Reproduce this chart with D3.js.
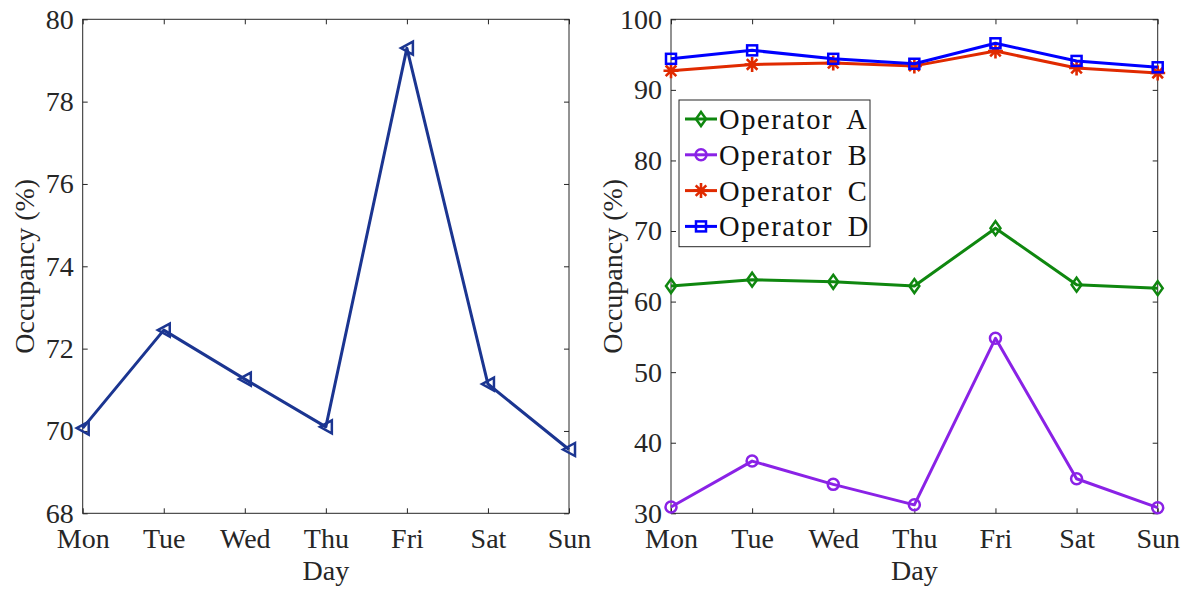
<!DOCTYPE html>
<html>
<head>
<meta charset="utf-8">
<script src="https://cdn.jsdelivr.net/npm/d3@7"></script>
<style>
  body { margin: 0; background: #fff; }
  text { font-family: "Liberation Serif", "Times New Roman", serif; fill: #262626; }
</style>
</head>
<body>
<svg id="chart" width="1189" height="590"></svg>
<script>
var days = ["Mon", "Tue", "Wed", "Thu", "Fri", "Sat", "Sun"];

// left panel: overall occupancy
var overall = [70.07, 72.45, 71.26, 70.1, 79.3, 71.14, 69.55];
var leftTicks = [68, 70, 72, 74, 76, 78, 80];

// right panel: per operator
var operatorNames = ["Operator A", "Operator B", "Operator C", "Operator D"];
var operatorA = [62.2, 63.1, 62.8, 62.2, 70.4, 62.4, 61.9];
var operatorB = [30.9, 37.4, 34.1, 31.2, 54.8, 34.9, 30.8];
var operatorC = [92.7, 93.6, 93.8, 93.4, 95.5, 93.1, 92.4];
var operatorD = [94.4, 95.6, 94.4, 93.7, 96.6, 94.1, 93.2];
var rightTicks = [30, 40, 50, 60, 70, 80, 90, 100];

var svg = d3.select("#chart");
var top_ = 19.3, bottom = 513.3;

function drawAxes(g, x, y, yTicks) {
  var x0 = x.range()[0], x1 = x.range()[1];
  g.append("rect")
    .attr("x", x0).attr("y", top_)
    .attr("width", x1 - x0).attr("height", bottom - top_)
    .attr("fill", "none").attr("stroke", "#262626").attr("stroke-width", 1);

  g.append("g").attr("transform", "translate(0," + bottom + ")")
    .call(d3.axisBottom(x).tickSize(-5).tickPadding(15));
  g.append("g").attr("transform", "translate(" + x0 + ",0)")
    .call(d3.axisLeft(y).tickValues(yTicks).tickSize(-5).tickPadding(9));
  g.append("g").attr("transform", "translate(0," + top_ + ")")
    .call(d3.axisTop(x).tickSize(-5).tickFormat(""));
  g.append("g").attr("transform", "translate(" + x1 + ",0)")
    .call(d3.axisRight(y).tickValues(yTicks).tickSize(-5).tickFormat(""));

  g.selectAll(".domain").remove();
  g.selectAll(".tick line").attr("stroke", "#262626");
  g.selectAll(".tick text").attr("font-size", 28).attr("fill", "#262626");

  g.append("text")
    .attr("x", (x0 + x1) / 2).attr("y", 580)
    .attr("text-anchor", "middle").attr("font-size", 28)
    .text("Day");
  g.append("text")
    .attr("transform", "translate(" + (x0 - 49) + "," + ((top_ + bottom) / 2) + ") rotate(-90)")
    .attr("text-anchor", "middle").attr("font-size", 28)
    .text("Occupancy (%)");
}

// marker shapes
function marker(sel, kind, color) {
  if (kind == "tri") {
    sel.append("path").attr("d", "M-6,0L6,-6.5L6,6.5Z")
      .attr("fill", "none").attr("stroke", color).attr("stroke-width", 2.5);
  } else if (kind == "diamond") {
    sel.append("path").attr("d", "M0,-7L5,0L0,7L-5,0Z")
      .attr("fill", "none").attr("stroke", color).attr("stroke-width", 2.5);
  } else if (kind == "circle") {
    sel.append("circle").attr("r", 5.5)
      .attr("fill", "none").attr("stroke", color).attr("stroke-width", 2.5);
  } else if (kind == "square") {
    sel.append("rect").attr("x", -5).attr("y", -5).attr("width", 10).attr("height", 10)
      .attr("fill", "none").attr("stroke", color).attr("stroke-width", 2.5);
  } else if (kind == "star") {
    var d = "";
    for (var k = 0; k < 4; k++) {
      var a = k * Math.PI / 4, r = 7.5;
      d += "M" + (-r * Math.cos(a)) + "," + (-r * Math.sin(a)) + "L" + (r * Math.cos(a)) + "," + (r * Math.sin(a));
    }
    sel.append("path").attr("d", d).attr("stroke", color).attr("stroke-width", 2.6);
  }
}

function drawSeries(g, x, y, vals, color, kind) {
  var line = d3.line().x(function(d, i) { return x(days[i]); }).y(function(d) { return y(d); });
  g.append("path").datum(vals)
    .attr("d", line).attr("fill", "none")
    .attr("stroke", color).attr("stroke-width", 3).attr("stroke-linejoin", "round");
  g.selectAll(null).data(vals).enter().append("g")
    .attr("transform", function(d, i) { return "translate(" + x(days[i]) + "," + y(d) + ")"; })
    .each(function() { marker(d3.select(this), kind, color); });
}

// left
var xL = d3.scalePoint().domain(days).range([82.7, 569]);
var yL = d3.scaleLinear().domain([68, 80]).range([bottom, top_]);
var gL = svg.append("g");
drawAxes(gL, xL, yL, leftTicks);
drawSeries(gL, xL, yL, overall, "#1b3591", "tri");

// right
var xR = d3.scalePoint().domain(days).range([671, 1157.7]);
var yR = d3.scaleLinear().domain([30, 100]).range([bottom, top_]);
var gR = svg.append("g");
drawAxes(gR, xR, yR, rightTicks);

var colors = ["#0f870f", "#8a22e6", "#e02a00", "#0000ff"];
var kinds = ["diamond", "circle", "star", "square"];
var series = [operatorA, operatorB, operatorC, operatorD];
series.forEach(function(s, i) { drawSeries(gR, xR, yR, s, colors[i], kinds[i]); });

// legend
var leg = gR.append("g").attr("transform", "translate(679,100)");
leg.append("rect").attr("width", 191).attr("height", 146.7)
  .attr("fill", "#fff").attr("stroke", "#262626").attr("stroke-width", 1);
operatorNames.forEach(function(name, i) {
  var row = leg.append("g").attr("transform", "translate(0," + (19 + i * 35.8) + ")");
  row.append("line").attr("x1", 6).attr("x2", 38)
    .attr("stroke", colors[i]).attr("stroke-width", 3);
  var m = row.append("g").attr("transform", "translate(22,0)");
  marker(m, kinds[i], colors[i]);
  row.append("text").attr("x", 40).attr("y", 10)
    .attr("font-size", 28.5).attr("letter-spacing", 1.6).attr("word-spacing", 6)
    .style("fill", "#111").text(name);
});
</script>
</body>
</html>
